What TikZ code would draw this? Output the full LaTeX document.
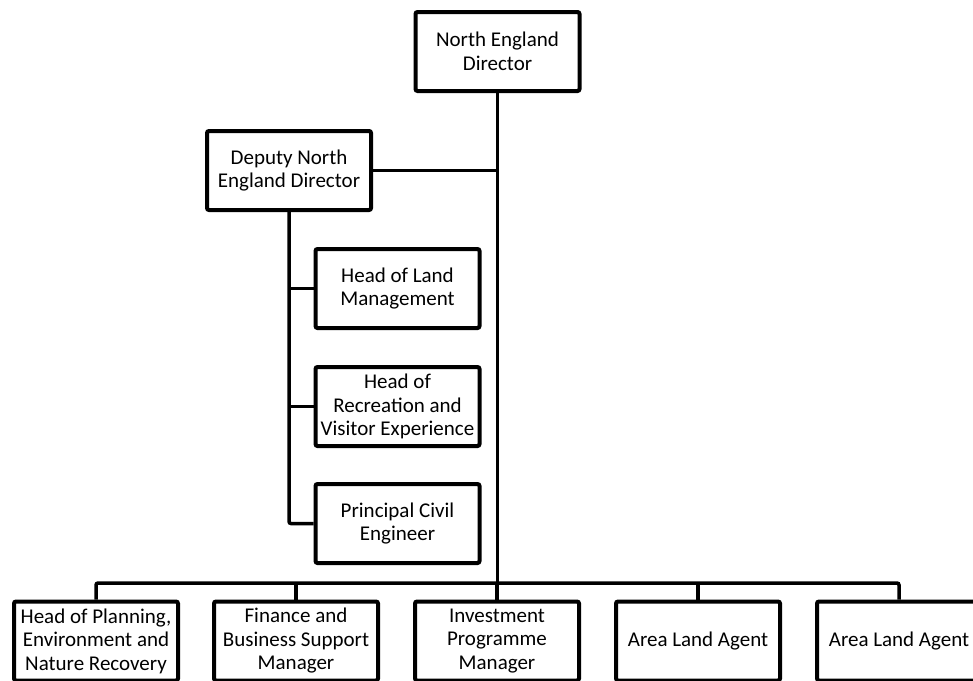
\documentclass[tikz,border=0pt]{standalone}
\usepackage{fontspec}
\setmainfont{Carlito}
\usetikzlibrary{positioning}
\tikzset{
  org box/.style={
    rectangle,
    rounded corners=2pt,
    draw=black,
    line width=4pt,
    minimum width=164pt,
    minimum height=79pt,
    align=center,
    inner sep=2pt,
    font=\fontsize{21}{23.5}\selectfont,
  },
  org line/.style={line width=3.5pt, rounded corners=2pt},
}

\begin{document}
\begin{tikzpicture}[x=1pt,y=1pt]
  \useasboundingbox (0,0) rectangle (973,-680);
  \clip (0,0) rectangle (973,-680);
  \node[org box] (director) at (497.5,-51.5) {North England\\Director};
  \node[org box] (deputy) at (289,-170.5) {Deputy North\\England Director};
  \node[org box] (land) at (397.5,-288.5) {Head of Land\\Management};
  \node[org box,below=35pt of land] (recreation) {Head of\\Recreation and\\Visitor Experience};
  \node[org box,below=34pt of recreation] (engineer) {Principal Civil\\Engineer};
  % bottom row
  \node[org box] (planning) at (96,-641) {Head of Planning,\\Environment and\\Nature Recovery};
  \node[org box,right=32pt of planning] (finance) {Finance and\\Business Support\\Manager};
  \node[org box,right=33pt of finance] (investment) {Investment\\Programme\\Manager};
  \node[org box,right=33pt of investment] (agenta) {Area Land Agent};
  \node[org box,right=33pt of agenta] (agentb) {Area Land Agent};
  \coordinate (bus) at (0,-583);
  \draw[org line] (director.south) -- (director.south |- bus);
  \draw[org line] (deputy.east) -- (deputy.east -| director.south);
  \draw[org line] (deputy.south) |- (engineer.west);
  \foreach \n in {land,recreation}
    \draw[org line] (\n.west) -- (\n.west -| deputy.south);
  \draw[org line] (planning.north) |- (bus -| director.south) -| (agentb.north);
  \foreach \n in {finance,investment,agenta}
    \draw[org line] (\n.north) -- (\n.north |- bus);
\end{tikzpicture}
\end{document}
